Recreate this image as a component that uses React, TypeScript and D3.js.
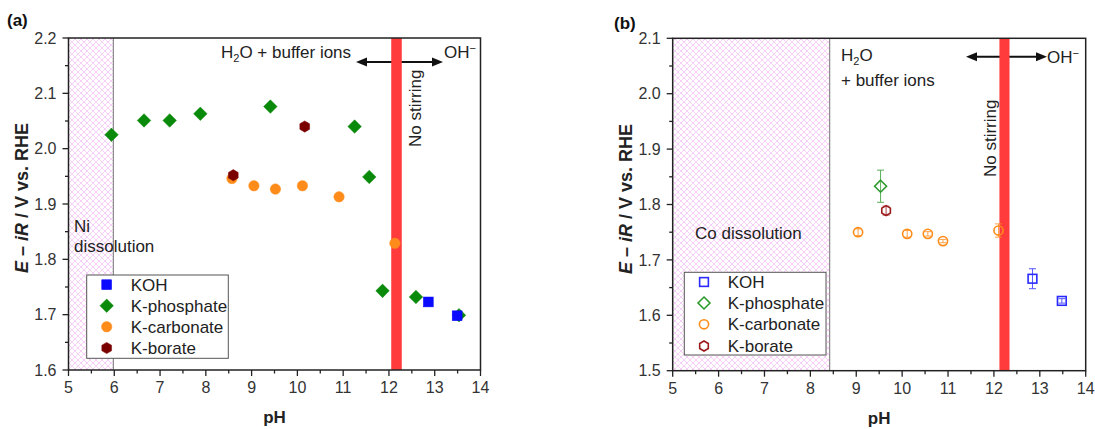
import React from "react";
import * as d3 from "d3";

// ---------- data ----------
const phTicks = [5, 6, 7, 8, 9, 10, 11, 12, 13, 14];
const eTicksA = [1.6, 1.7, 1.8, 1.9, 2.0, 2.1, 2.2];
const eTicksB = [1.5, 1.6, 1.7, 1.8, 1.9, 2.0, 2.1];
const legendLabels = ["KOH", "K-phosphate", "K-carbonate", "K-borate"];

// panel (a) – Ni
const kohPhA = [12.86, 13.49];
const kohEA = [1.723, 1.698];
const phosPhA = [5.94, 6.65, 7.21, 7.88, 9.41, 11.25, 11.57, 11.86, 12.59, 13.53];
const phosEA = [2.025, 2.051, 2.051, 2.063, 2.076, 2.04, 1.949, 1.743, 1.732, 1.699];
const carbPhA = [8.57, 9.05, 9.52, 10.11, 10.91, 12.13];
const carbEA = [1.946, 1.933, 1.927, 1.933, 1.913, 1.829];
const borPhA = [8.6, 10.16];
const borEA = [1.952, 2.04];

// panel (b) – Co
const kohPhB = [12.84, 13.48];
const kohEB = [1.666, 1.626];
const kohErrB = [0.018, 0.004];
const phosPhB = [9.53];
const phosEB = [1.833];
const phosErrB = [0.029];
const carbPhB = [9.04, 10.11, 10.56, 10.89, 12.1];
const carbEB = [1.75, 1.747, 1.747, 1.734, 1.753];
const carbErrB = [0.006, 0.006, 0.004, 0.003, 0.012];
const borPhB = [9.65];
const borEB = [1.789];
const borErrB = [0.008];

const FONT = "'Liberation Sans', Arial, Helvetica, sans-serif";

type Shape = "square" | "diamond" | "circle" | "hexagon";

function Marker({ shape, x, y, color, open, size }: { shape: Shape; x: number; y: number; color: string; open: boolean; size: number }) {
  const fill = open ? "none" : color;
  const stroke = color;
  const sw = open ? 1.6 : 0.5;
  if (shape === "square") {
    const s = size * 0.95;
    return <rect x={x - s} y={y - s} width={2 * s} height={2 * s} fill={fill} stroke={stroke} strokeWidth={sw} />;
  }
  if (shape === "diamond") {
    const s = size * 1.3;
    return <path d={`M${x},${y - s}L${x + s},${y}L${x},${y + s}L${x - s},${y}Z`} fill={fill} stroke={stroke} strokeWidth={sw} />;
  }
  if (shape === "circle") {
    return <circle cx={x} cy={y} r={size} fill={fill} stroke={stroke} strokeWidth={sw} />;
  }
  const r = size * 1.08;
  const pts = d3.range(6).map((k) => {
    const a = ((-90 + k * 60) * Math.PI) / 180;
    return [x + r * Math.cos(a), y + r * Math.sin(a)];
  });
  return <path d={"M" + pts.map((p) => p.join(",")).join("L") + "Z"} fill={fill} stroke={stroke} strokeWidth={sw} />;
}

type Series = { shape: Shape; color: string; ph: number[]; e: number[]; err?: number[] };

type PanelCfg = {
  left: number; right: number; top: number; bottom: number;
  yDomain: [number, number]; yTicks: number[];
  open: boolean; size: number; series: Series[]; drawOrder: number[];
  hatchTo: number; band: [number, number];
  letter: string; letterX: number; letterY: number;
  yLabelX: number; yLabelY: number;
  legend: { x0: number; y0: number; x1: number; y1: number; rows: number[]; symX: number; textX: number };
  children: (x: d3.ScaleLinear<number, number>, y: d3.ScaleLinear<number, number>) => React.ReactNode;
};

function Panel(cfg: PanelCfg) {
  const x = d3.scaleLinear().domain([5, 14]).range([cfg.left, cfg.right]);
  const y = d3.scaleLinear().domain(cfg.yDomain).range([cfg.bottom, cfg.top]);
  const minorX = d3.range(5.5, 14, 1);
  const minorY = cfg.yTicks.slice(0, -1).map((t) => t + 0.05);
  const axisColor = "#222";
  const L = cfg.legend;
  return (
    <g>
      <rect x={x(5)} y={cfg.top} width={x(cfg.hatchTo) - x(5)} height={cfg.bottom - cfg.top} fill="url(#hatch)" />
      <line x1={x(cfg.hatchTo)} x2={x(cfg.hatchTo)} y1={cfg.top} y2={cfg.bottom} stroke="#8a8a8a" strokeWidth={1.2} />
      {cfg.children(x, y)}
      <rect x={x(cfg.band[0])} y={cfg.top} width={x(cfg.band[1]) - x(cfg.band[0])} height={cfg.bottom - cfg.top} fill="#ff3b3b" />
      {cfg.drawOrder.map((si) => {
        const s = cfg.series[si];
        return (
          <g key={si}>
            {s.ph.map((p, i) => {
              const cx = x(p), cy = y(s.e[i]);
              const err = s.err ? s.err[i] : 0;
              return (
                <g key={i}>
                  {err > 0 && (
                    <g stroke={s.color} strokeWidth={1} opacity={0.8}>
                      <line x1={cx} x2={cx} y1={y(s.e[i] + err)} y2={y(s.e[i] - err)} />
                      <line x1={cx - 3.5} x2={cx + 3.5} y1={y(s.e[i] + err)} y2={y(s.e[i] + err)} />
                      <line x1={cx - 3.5} x2={cx + 3.5} y1={y(s.e[i] - err)} y2={y(s.e[i] - err)} />
                    </g>
                  )}
                  <Marker shape={s.shape} x={cx} y={cy} color={s.color} open={cfg.open} size={cfg.size} />
                </g>
              );
            })}
          </g>
        );
      })}
      {/* legend */}
      <rect x={L.x0} y={L.y0} width={L.x1 - L.x0} height={L.y1 - L.y0} fill="white" stroke="#555" strokeWidth={1} />
      {cfg.series.map((s, i) => (
        <g key={i}>
          <Marker shape={s.shape} x={L.symX} y={L.rows[i]} color={s.color} open={cfg.open} size={cfg.size} />
          <text x={L.textX} y={L.rows[i]} dy="0.35em" fontSize={17} fontFamily={FONT} fill="#222">{legendLabels[i]}</text>
        </g>
      ))}
      {/* frame */}
      <rect x={cfg.left} y={cfg.top} width={cfg.right - cfg.left} height={cfg.bottom - cfg.top} fill="none" stroke={axisColor} strokeWidth={1.5} />
      {/* x ticks */}
      {phTicks.map((t) => (
        <g key={"x" + t}>
          <line x1={x(t)} x2={x(t)} y1={cfg.bottom} y2={cfg.bottom + 6} stroke={axisColor} strokeWidth={1.3} />
          <text x={x(t)} y={cfg.bottom + 23} textAnchor="middle" fontSize={16} fontFamily={FONT} fill="#333">{t}</text>
        </g>
      ))}
      {minorX.map((t) => (
        <line key={"mx" + t} x1={x(t)} x2={x(t)} y1={cfg.bottom} y2={cfg.bottom + 3.5} stroke={axisColor} strokeWidth={1.3} />
      ))}
      {cfg.yTicks.map((t) => (
        <g key={"y" + t}>
          <line x1={cfg.left - 6} x2={cfg.left} y1={y(t)} y2={y(t)} stroke={axisColor} strokeWidth={1.3} />
          <text x={cfg.left - 12} y={y(t)} dy="0.36em" textAnchor="end" fontSize={16} fontFamily={FONT} fill="#333">{d3.format(".1f")(t)}</text>
        </g>
      ))}
      {minorY.map((t) => (
        <line key={"my" + t} x1={cfg.left - 3.5} x2={cfg.left} y1={y(t)} y2={y(t)} stroke={axisColor} strokeWidth={1.3} />
      ))}
      <text x={(cfg.left + cfg.right) / 2} y={cfg.bottom + 53} textAnchor="middle" fontSize={17} fontWeight="bold" fontFamily={FONT} fill="#222">pH</text>
      <text transform={`translate(${cfg.yLabelX},${cfg.yLabelY}) rotate(-90)`} fontSize={18} fontWeight="bold" fontFamily={FONT} fill="#222">
        <tspan fontStyle="italic">E</tspan>
        <tspan> – </tspan>
        <tspan fontStyle="italic">iR</tspan>
        <tspan> / V vs. RHE</tspan>
      </text>
      <text x={cfg.letterX} y={cfg.letterY} fontSize={17} fontWeight="bold" fontFamily={FONT} fill="#111">{cfg.letter}</text>
    </g>
  );
}

function Arrow({ x1, x2, y }: { x1: number; x2: number; y: number }) {
  const h = 11, w = 4.5;
  return (
    <g>
      <line x1={x1 + h - 1} x2={x2 - h + 1} y1={y} y2={y} stroke="#111" strokeWidth={2} />
      <path d={`M${x1},${y}L${x1 + h},${y - w}L${x1 + h},${y + w}Z`} fill="#111" />
      <path d={`M${x2},${y}L${x2 - h},${y - w}L${x2 - h},${y + w}Z`} fill="#111" />
    </g>
  );
}

export default function App() {
  const seriesA: Series[] = [
    { shape: "square", color: "#0a0aff", ph: kohPhA, e: kohEA },
    { shape: "diamond", color: "#0a8a0a", ph: phosPhA, e: phosEA },
    { shape: "circle", color: "#ff8c1a", ph: carbPhA, e: carbEA },
    { shape: "hexagon", color: "#7a0000", ph: borPhA, e: borEA },
  ];
  const seriesB: Series[] = [
    { shape: "square", color: "#2a2aff", ph: kohPhB, e: kohEB, err: kohErrB },
    { shape: "diamond", color: "#2e9a2e", ph: phosPhB, e: phosEB, err: phosErrB },
    { shape: "circle", color: "#ff8c1a", ph: carbPhB, e: carbEB, err: carbErrB },
    { shape: "hexagon", color: "#9a1a1a", ph: borPhB, e: borEB, err: borErrB },
  ];
  const txt = { fontSize: 17, fontFamily: FONT, fill: "#222" } as const;
  return (
    <svg width={1095} height={429} style={{ position: "absolute", left: 0, top: 0, background: "white" }}>
      <defs>
        <pattern id="hatch" width={6} height={6} patternUnits="userSpaceOnUse">
          <rect width={6} height={6} fill="white" />
          <path d="M0,0L6,6M6,0L0,6" stroke="#f4bcf4" strokeWidth={0.7} />
        </pattern>
      </defs>
      <Panel
        left={68.5} right={480.5} top={38} bottom={370}
        yDomain={[1.6, 2.2]} yTicks={eTicksA} open={false} size={5.2}
        series={seriesA} drawOrder={[1, 2, 3, 0]} hatchTo={5.98} band={[12.05, 12.28]}
        letter="(a)" letterX={7} letterY={26} yLabelX={27.5} yLabelY={273}
        legend={{ x0: 86.7, y0: 275, x1: 228.3, y1: 358.3, rows: [284.7, 305.7, 326.7, 348], symX: 106.7, textX: 130.7 }}
      >
        {(x, y) => (
          <g>
            <Arrow x1={356} x2={443} y={62} />
            <text x={221} y={58} {...txt}>H<tspan fontSize={11} dy={4}>2</tspan><tspan dy={-4}>O + buffer ions</tspan></text>
            <text x={444} y={58} {...txt}>OH<tspan fontSize={11} dy={-6}>−</tspan></text>
            <text transform="translate(421,147) rotate(-90)" {...txt}>No stirring</text>
            <text x={74} y={231.5} {...txt}>Ni</text>
            <text x={74} y={251.5} {...txt}>dissolution</text>
          </g>
        )}
      </Panel>
      <Panel
        left={672.7} right={1085.7} top={38.3} bottom={370.7}
        yDomain={[1.5, 2.1]} yTicks={eTicksB} open={true} size={4.6}
        series={seriesB} drawOrder={[2, 1, 3, 0]} hatchTo={8.42} band={[12.12, 12.34]}
        letter="(b)" letterX={614} letterY={29} yLabelX={632} yLabelY={274}
        legend={{ x0: 684.3, y0: 272.3, x1: 826, y1: 355, rows: [282, 303, 324.3, 346], symX: 704, textX: 727.7 }}
      >
        {(x, y) => (
          <g>
            <Arrow x1={966} x2={1047} y={56.7} />
            <text x={841} y={61} {...txt}>H<tspan fontSize={11} dy={4}>2</tspan><tspan dy={-4}>O</tspan></text>
            <text x={841} y={86} {...txt}>+ buffer ions</text>
            <text x={1047} y={63} {...txt}>OH<tspan fontSize={11} dy={-6}>−</tspan></text>
            <text transform="translate(995.5,177) rotate(-90)" {...txt}>No stirring</text>
            <text x={695} y={238.5} {...txt}>Co dissolution</text>
          </g>
        )}
      </Panel>
    </svg>
  );
}
